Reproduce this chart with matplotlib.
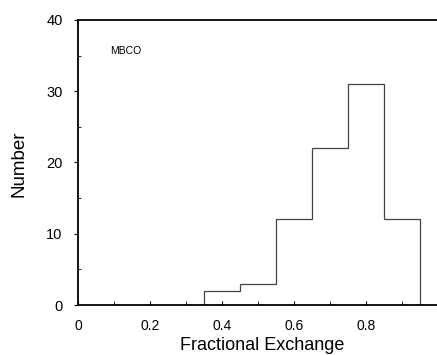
import matplotlib
matplotlib.use("Agg")
import matplotlib.pyplot as plt
import numpy as np

# histogram of fractional exchange, bins of width 0.1
bin_edges = [0.35, 0.45, 0.55, 0.65, 0.75, 0.85, 0.95]
counts = [2, 3, 12, 22, 31, 12]
x_ticks = [0, 0.2, 0.4, 0.6, 0.8]
x_tick_labels = ["0", "0.2", "0.4", "0.6", "0.8"]
y_ticks = [0, 10, 20, 30, 40]

plt.rcParams["font.family"] = ["Liberation Sans", "DejaVu Sans"]

fig = plt.figure(figsize=(4.37, 3.55), dpi=100)
ax = fig.add_axes([0.1785, 0.1408, 0.824, 0.803])

ax.stairs(counts, bin_edges, color="#444444", linewidth=0.9, baseline=0)

ax.set_xlim(0, 1.0)
ax.set_ylim(0, 40)
ax.set_xticks(x_ticks)
ax.set_xticklabels(x_tick_labels)
ax.set_xticks(np.arange(0.1, 1.0, 0.2), minor=True)
ax.set_yticks(y_ticks)
ax.set_yticks([5, 15, 25, 35], minor=True)
ax.tick_params(axis="x", which="both", direction="in", length=3, labelsize=10, pad=10)
ax.tick_params(axis="y", which="major", direction="out", length=3, labelsize=10.5, pad=8)
ax.tick_params(axis="y", which="minor", direction="in", length=2)

for side in ["left", "bottom", "top"]:
    ax.spines[side].set_linewidth(1.3)
ax.spines["right"].set_visible(False)

ax.text(0.09, 35.6, "MBCO", fontsize=7.5, va="center")

# axis titles placed to match the scanned figure
ax.set_xlabel("Fractional Exchange", fontsize=13)
ax.xaxis.set_label_coords(0.511, -0.143)
ax.xaxis.label.set_va("center")
ax.set_ylabel("Number", fontsize=13.5)
ax.yaxis.set_label_coords(-0.165, 0.497)
ax.yaxis.label.set_va("center")

fig.savefig("out.png", dpi=100)
